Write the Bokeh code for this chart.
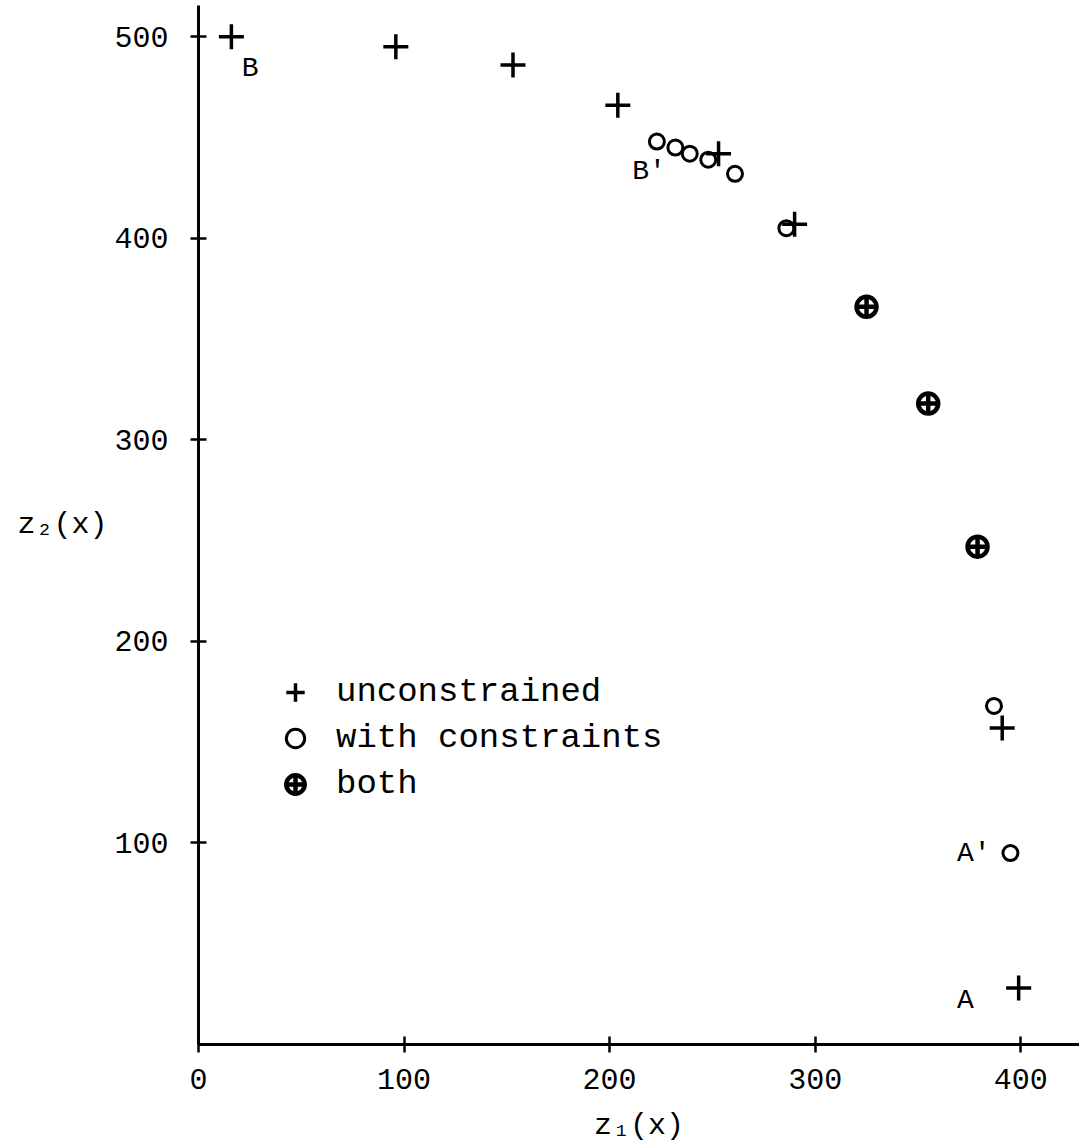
from bokeh.plotting import figure
from bokeh.models import Range1d, FixedTicker, Legend, LegendItem, Label
from bokeh.embed import file_html
from bokeh.resources import INLINE

# ---- data ----
unc_x = [16, 96, 153, 204, 253, 290, 391, 399]
unc_y = [500, 495, 486, 466, 442, 407, 157, 28]
con_x = [223, 232, 239, 248, 261, 286, 387, 395]
con_y = [448, 445, 442, 439, 432, 405, 168, 95]
both_x = [325, 355, 379]
both_y = [366, 318, 247]

x_ticks = [0, 100, 200, 300, 400]
y_ticks = [100, 200, 300, 400, 500]

pt_labels = ["B", "B'", "A'", "A"]
pt_lab_x = [21, 211, 369, 369]
pt_lab_y = [484, 433, 95, 22]

FONT = "Liberation Mono"

p = figure(width=1079, height=1145,
           x_range=Range1d(0, 428.6), y_range=Range1d(0, 515.5),
           output_backend="svg", toolbar_location=None,
           min_border_left=198, min_border_right=0,
           min_border_top=5, min_border_bottom=101)
p.outline_line_color = None
p.grid.visible = False
p.background_fill_color = "white"
p.border_fill_color = "white"

# axes
for ax in (p.xaxis[0], p.yaxis[0]):
    ax.axis_line_width = 3
    ax.axis_line_color = "black"
    ax.major_tick_line_width = 2.5
    ax.major_tick_line_color = "black"
    ax.major_tick_in = 8
    ax.major_tick_out = 8
    ax.minor_tick_line_color = None
    ax.major_label_text_font = FONT
    ax.major_label_text_font_size = "30px"
    ax.major_label_text_color = "black"
    ax.axis_label_text_font = FONT
    ax.axis_label_text_font_size = "30px"
    ax.axis_label_text_font_style = "normal"
    ax.axis_label_text_color = "black"

p.xaxis.ticker = FixedTicker(ticks=x_ticks)
p.yaxis.ticker = FixedTicker(ticks=y_ticks)
p.xaxis.axis_label = "z\u2081(x)"
p.yaxis.axis_label = "z\u2082(x)"
p.yaxis.axis_label_orientation = "horizontal"
p.yaxis.major_label_standoff = 22
p.yaxis.axis_label_standoff = 4
p.xaxis.major_label_standoff = 16
p.xaxis.axis_label_standoff = 17

# data marks
r_unc = p.scatter(unc_x, unc_y, marker="cross", size=25, line_width=3.5,
                  line_color="black")
r_con = p.scatter(con_x, con_y, marker="circle", size=15, line_width=3,
                  line_color="black", fill_color=None)
r_both = p.scatter(both_x, both_y, marker="circle_cross", size=20,
                   line_width=4.5, line_color="black", fill_color=None)

# point labels
for t, lx, ly in zip(pt_labels, pt_lab_x, pt_lab_y):
    p.add_layout(Label(x=lx, y=ly, text=t, text_font=FONT,
                       text_font_size="28px", text_color="black",
                       text_align="left", text_baseline="middle"))

legend = Legend(items=[LegendItem(label="unconstrained", renderers=[r_unc]),
                       LegendItem(label="with constraints", renderers=[r_con]),
                       LegendItem(label="both", renderers=[r_both])],
                location=(74, 237), orientation="vertical",
                glyph_width=46, glyph_height=46, label_height=46,
                spacing=0, padding=0, margin=0, label_standoff=18,
                border_line_color=None, background_fill_alpha=0,
                label_text_font=FONT, label_text_font_size="34px",
                label_text_color="black")
p.add_layout(legend, "center")

open("out.html", "w").write(file_html(p, INLINE))
